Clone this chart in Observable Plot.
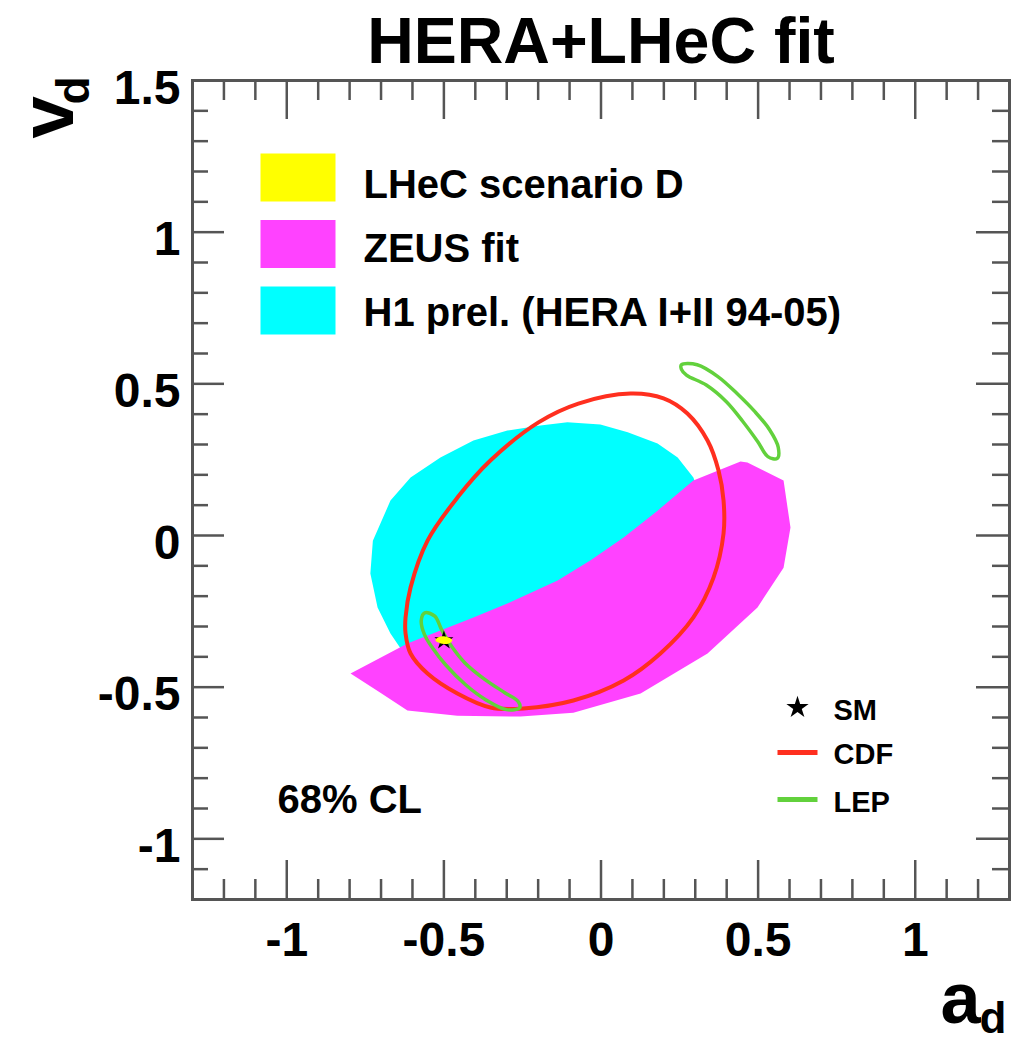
<!DOCTYPE html>
<html>
<head>
<meta charset="utf-8">
<script src="https://cdn.jsdelivr.net/npm/d3@7"></script>
<script src="https://cdn.jsdelivr.net/npm/@observablehq/plot@0.6"></script>
<style>
  html, body { margin: 0; padding: 0; background: #fff; }
  #chart svg { display: block; }
</style>
</head>
<body>
<div id="chart"></div>
<script>
// 68% CL regions in the (a_d, v_d) plane: [a_d, v_d] vertices
const h1Contour = [
  [-0.734,-0.125],[-0.726,-0.017],[-0.670,0.115],[-0.606,0.191],[-0.511,0.257],
  [-0.406,0.313],[-0.298,0.346],[-0.193,0.363],[-0.107,0.373],[-0.002,0.366],
  [0.085,0.340],[0.180,0.303],[0.244,0.257],[0.294,0.191],[0.333,0.082],
  [0.333,-0.082],[0.285,-0.247],[0.174,-0.412],[0.030,-0.528],[-0.129,-0.584],
  [-0.304,-0.590],[-0.463,-0.551],[-0.575,-0.478],[-0.629,-0.386],[-0.670,-0.323],
  [-0.711,-0.237]
];
const zeusContour = [
  [-0.797,-0.455],[-0.702,-0.518],[-0.616,-0.577],[-0.457,-0.594],[-0.256,-0.597],
  [-0.088,-0.584],[0.126,-0.521],[0.339,-0.389],[0.498,-0.237],[0.581,-0.106],
  [0.603,0.026],[0.581,0.181],[0.466,0.241],[0.444,0.244],[0.294,0.181],
  [0.180,0.082],[0.072,-0.007],[-0.033,-0.082],[-0.138,-0.148],[-0.298,-0.224],
  [-0.406,-0.270],[-0.511,-0.313],[-0.616,-0.356]
];
const cdfContour = [
  [-0.622,-0.323],[-0.622,-0.270],[-0.606,-0.171],[-0.552,-0.017],[-0.457,0.125],
  [-0.352,0.247],[-0.199,0.373],[-0.072,0.435],[0.094,0.468],[0.199,0.452],
  [0.275,0.402],[0.339,0.313],[0.374,0.214],[0.390,0.115],[0.390,0.007],
  [0.358,-0.139],[0.294,-0.270],[0.189,-0.389],[0.072,-0.478],[-0.088,-0.544],
  [-0.247,-0.570],[-0.352,-0.567],[-0.457,-0.521],[-0.552,-0.455],[-0.606,-0.389]
];
const lepUpper = [
  [0.256,0.563],[0.306,0.563],[0.372,0.524],[0.437,0.464],[0.489,0.409],
  [0.537,0.348],[0.564,0.291],[0.561,0.254],[0.531,0.260],[0.499,0.309],
  [0.452,0.375],[0.399,0.441],[0.335,0.496],[0.272,0.529],[0.256,0.548]
];
const lepLower = [
  [-0.561,-0.255],[-0.529,-0.266],[-0.507,-0.311],[-0.475,-0.366],[-0.433,-0.420],
  [-0.369,-0.475],[-0.305,-0.519],[-0.263,-0.548],[-0.259,-0.568],[-0.301,-0.574],
  [-0.366,-0.542],[-0.430,-0.493],[-0.494,-0.427],[-0.536,-0.371],[-0.562,-0.326],
  [-0.572,-0.280]
];
const lhecContour = [
  [-0.527,-0.345],[-0.519,-0.336],[-0.500,-0.332],[-0.481,-0.338],
  [-0.473,-0.345],[-0.481,-0.354],[-0.500,-0.358],[-0.519,-0.352]
];
const smPoint = [[-0.5, -0.346]];

// axis ticks
const xTickLabels = [-1, -0.5, 0, 0.5, 1];
const yTickLabels = [-1, -0.5, 0, 0.5, 1, 1.5];
const xMinorTicks = [-1.2,-1.1,-0.9,-0.8,-0.7,-0.6,-0.4,-0.3,-0.2,-0.1,0.1,0.2,0.3,0.4,0.6,0.7,0.8,0.9,1.1,1.2];
const yMinorTicks = [-1.1,-0.9,-0.8,-0.7,-0.6,-0.4,-0.3,-0.2,-0.1,0.1,0.2,0.3,0.4,0.6,0.7,0.8,0.9,1.1,1.2,1.3,1.4];

// legends
const fillLegend = [
  {label: "LHeC scenario D", color: "#ffff00"},
  {label: "ZEUS fit", color: "#ff42ff"},
  {label: "H1 prel. (HERA I+II 94-05)", color: "#00ffff"}
];
const lineLegend = [
  {label: "CDF", color: "#ff2f1f"},
  {label: "LEP", color: "#62d13c"}
];

// layout
const W = 1018, H = 1041;
const M = {top: 80, right: 9, bottom: 142, left: 192};
const FW = W - M.left - M.right;
const FH = H - M.top - M.bottom;
const FONT = "'Liberation Sans', Arial, Helvetica, sans-serif";
const AXIS = "#555";
const fmt = d => String(d);
const px = d => d[0], py = d => d[1];

// a filled box placed in frame pixel coordinates
const box = (left, top, w, h, fill) => Plot.frame({
  fill, stroke: "none",
  insetLeft: left, insetTop: top,
  insetRight: FW - left - w, insetBottom: FH - top - h
});
const label = (text, opts) => Plot.text([text], {
  text: d => d, fontFamily: FONT, fontWeight: "bold", lineAnchor: "bottom", fill: "black", ...opts
});

const marks = [
  // regions
  Plot.line(h1Contour, {x: px, y: py, curve: "linear-closed", fill: "#00ffff", stroke: "none"}),
  Plot.line(zeusContour, {x: px, y: py, curve: "linear-closed", fill: "#ff42ff", stroke: "none"}),
  Plot.line(cdfContour, {x: px, y: py, curve: "catmull-rom-closed", stroke: lineLegend[0].color, strokeWidth: 4}),
  Plot.line(lepUpper, {x: px, y: py, curve: "catmull-rom-closed", stroke: lineLegend[1].color, strokeWidth: 3.5}),
  Plot.line(lepLower, {x: px, y: py, curve: "catmull-rom-closed", stroke: lineLegend[1].color, strokeWidth: 3.5}),
  Plot.dot(smPoint, {x: px, y: py, symbol: "star", fill: "black", stroke: "none", r: 6}),
  Plot.line(lhecContour, {x: px, y: py, curve: "catmull-rom-closed", fill: "#ffff00", stroke: "none"}),

  // frame and inward ticks on all four sides
  Plot.tickX(xTickLabels, {x: d => d, insetTop: FH - 39, stroke: AXIS, strokeWidth: 2.5}),
  Plot.tickX(xTickLabels, {x: d => d, insetBottom: FH - 39, stroke: AXIS, strokeWidth: 2.5}),
  Plot.tickX(xMinorTicks, {x: d => d, insetTop: FH - 20, stroke: AXIS, strokeWidth: 2.5}),
  Plot.tickX(xMinorTicks, {x: d => d, insetBottom: FH - 20, stroke: AXIS, strokeWidth: 2.5}),
  Plot.tickY(yTickLabels, {y: d => d, insetRight: FW - 32, stroke: AXIS, strokeWidth: 2.5}),
  Plot.tickY(yTickLabels, {y: d => d, insetLeft: FW - 33, stroke: AXIS, strokeWidth: 2.5}),
  Plot.tickY(yMinorTicks, {y: d => d, insetRight: FW - 16, stroke: AXIS, strokeWidth: 2.5}),
  Plot.tickY(yMinorTicks, {y: d => d, insetLeft: FW - 17, stroke: AXIS, strokeWidth: 2.5}),
  Plot.frame({stroke: AXIS, strokeWidth: 3}),

  // tick labels
  Plot.text(xTickLabels, {x: d => d, frameAnchor: "bottom", dy: 56, text: fmt, lineAnchor: "bottom",
    fontSize: 48, fontWeight: "bold", fontFamily: FONT, fill: "black"}),
  Plot.text(yTickLabels, {y: d => d, frameAnchor: "left", dx: -12, dy: 23, text: fmt, textAnchor: "end",
    lineAnchor: "bottom", fontSize: 48, fontWeight: "bold", fontFamily: FONT, fill: "black"}),

  // title and axis titles
  label("HERA+LHeC fit", {frameAnchor: "top", dy: -18, fontSize: 64.5}),
  label("v", {frameAnchor: "top-left", dx: -120, dy: 58, rotate: -90, fontSize: 76}),
  label("d", {frameAnchor: "top-left", dx: -104, dy: 24, rotate: -90, fontSize: 46}),
  label("a", {frameAnchor: "bottom-right", dx: -69, dy: 123, textAnchor: "start", fontSize: 72}),
  label("d", {frameAnchor: "bottom-right", dx: -30, dy: 133, textAnchor: "start", fontSize: 44}),

  // region legend
  ...fillLegend.map((e, i) => box(68, 73 + 66.5 * i, 75, 48, e.color)),
  ...fillLegend.map((e, i) => label(e.label, {frameAnchor: "top-left", dx: 171, dy: 117 + 64 * i,
    textAnchor: "start", fontSize: 40})),

  // SM / line legend
  Plot.dot([0], {frameAnchor: "top-left", dx: 605, dy: 627, symbol: "star", fill: "black", stroke: "none", r: 7}),
  label("SM", {frameAnchor: "top-left", dx: 641, dy: 639, textAnchor: "start", fontSize: 29}),
  ...lineLegend.map((e, i) => box(585, 669.5 + 47 * i, 40, 5, e.color)),
  ...lineLegend.map((e, i) => label(e.label, {frameAnchor: "top-left", dx: 641, dy: 683 + 48.5 * i,
    textAnchor: "start", fontSize: 29})),

  label("68% CL", {frameAnchor: "top-left", dx: 85, dy: 732, textAnchor: "start", fontSize: 40})
];

const chart = Plot.plot({
  width: W,
  height: H,
  marginTop: M.top,
  marginRight: M.right,
  marginBottom: M.bottom,
  marginLeft: M.left,
  style: {fontFamily: FONT, background: "#fff", color: "black"},
  x: {domain: [-1.3, 1.3], axis: null},
  y: {domain: [-1.2, 1.5], axis: null},
  marks
});
document.getElementById("chart").appendChild(chart);
</script>
</body>
</html>
